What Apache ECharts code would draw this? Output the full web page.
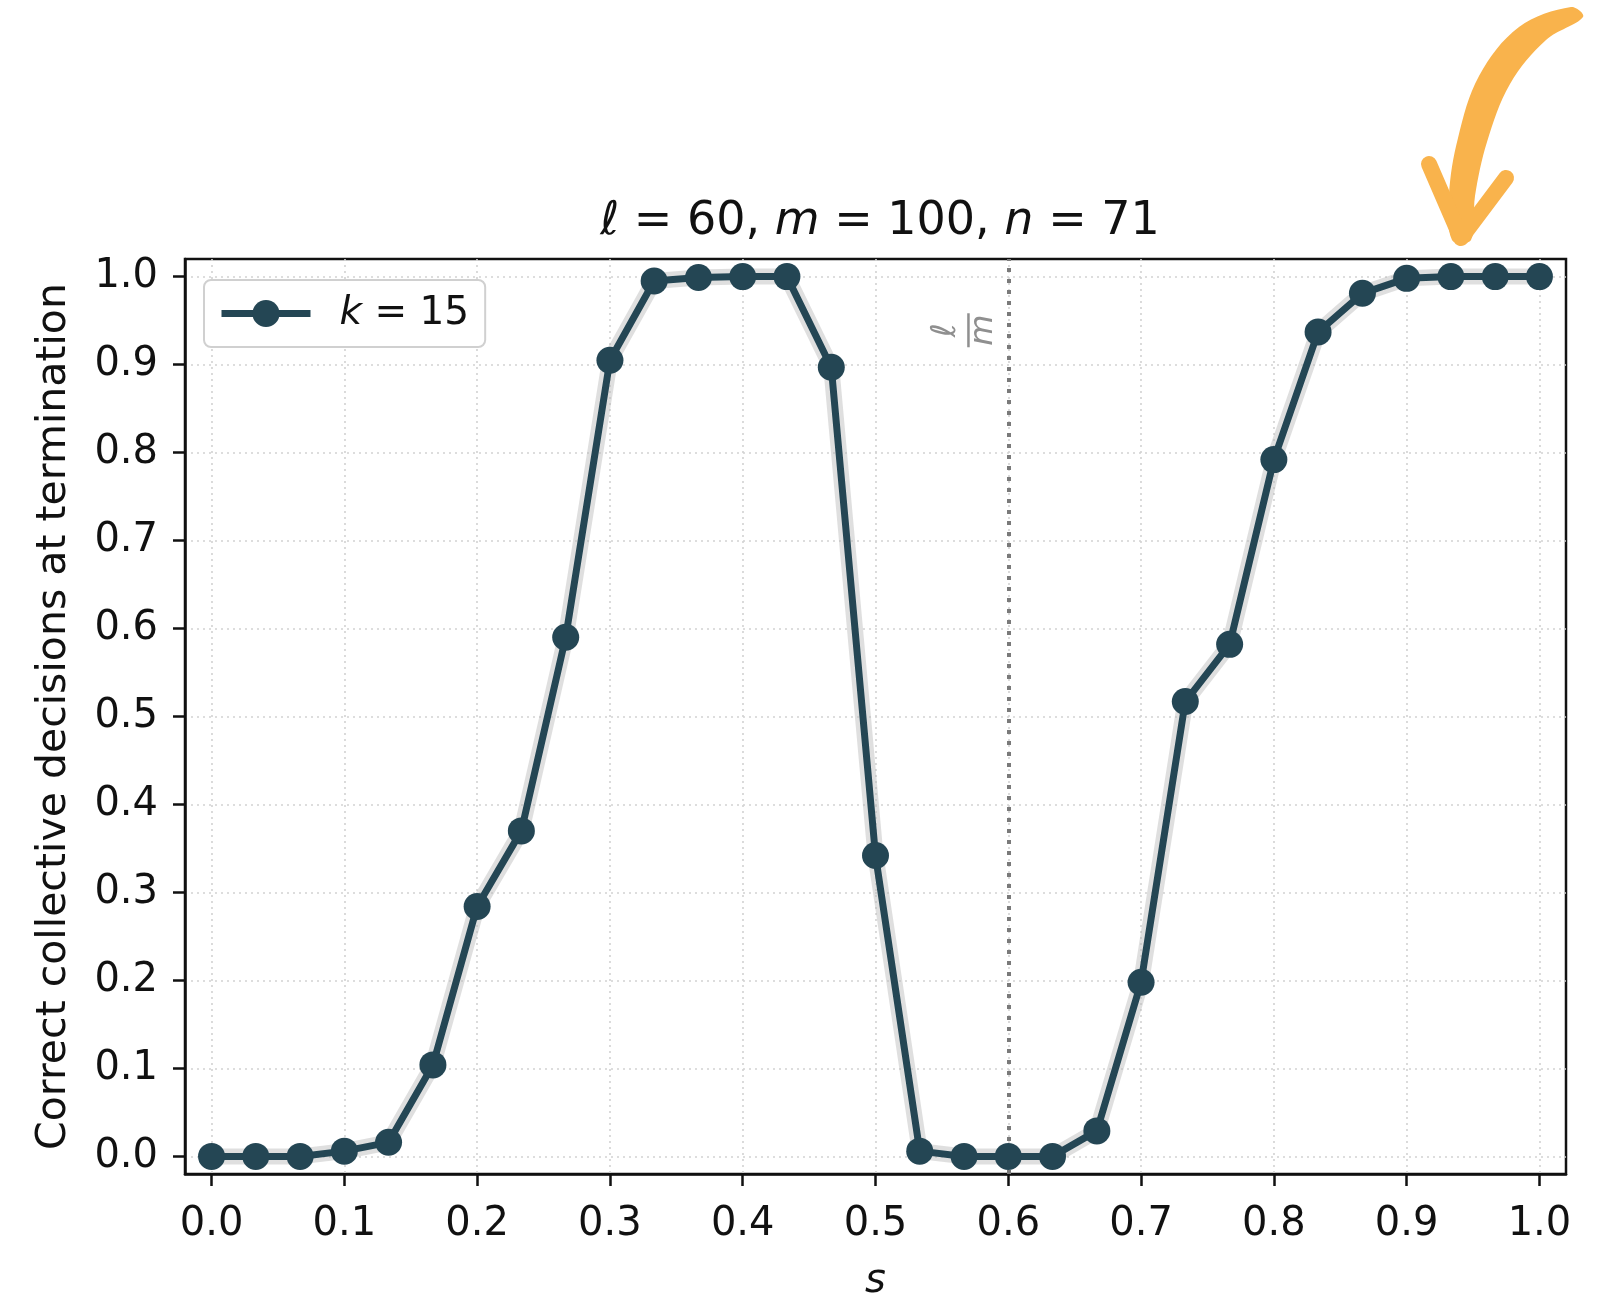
<!DOCTYPE html>
<html>
<head>
<meta charset="utf-8">
<script src="https://cdn.jsdelivr.net/npm/echarts@6/dist/echarts.min.js"></script>
<style>
html,body{margin:0;padding:0;background:#fff;}
#chart{width:1611px;height:1298px;}
</style>
</head>
<body>
<div id="chart"></div>
<script>
// ---- data ----
const sValues = [0.0000, 0.0333, 0.0667, 0.1000, 0.1333, 0.1667, 0.2000, 0.2333, 0.2667, 0.3000,
                 0.3333, 0.3667, 0.4000, 0.4333, 0.4667, 0.5000, 0.5333, 0.5667, 0.6000, 0.6333,
                 0.6667, 0.7000, 0.7333, 0.7667, 0.8000, 0.8333, 0.8667, 0.9000, 0.9333, 0.9667, 1.0000];
const correctK15 = [0.000, 0.000, 0.000, 0.006, 0.016, 0.104, 0.284, 0.370, 0.590, 0.905,
                    0.995, 0.999, 1.000, 1.000, 0.897, 0.342, 0.006, 0.000, 0.000, 0.000,
                    0.029, 0.198, 0.517, 0.582, 0.792, 0.937, 0.981, 0.998, 1.000, 1.000, 1.000];
const xTicks = [0.0, 0.1, 0.2, 0.3, 0.4, 0.5, 0.6, 0.7, 0.8, 0.9, 1.0];
const yTicks = [0.0, 0.1, 0.2, 0.3, 0.4, 0.5, 0.6, 0.7, 0.8, 0.9, 1.0];
const ratioLM = 0.6;           // l/m
const fracLabelPos = [0.570, 0.939];
const seriesName = 'k = 15';

const FONT = '"DejaVu Sans", sans-serif';
const LINE_COLOR = '#244654';
const ORANGE = '#F9B34C';

const chart = echarts.init(document.getElementById('chart'), null, {renderer: 'canvas'});

const points = sValues.map((s, i) => [s, correctK15[i]]);

const gridLineStyle = {color: '#d2d2d2', width: 1.6, type: [2, 4]};

const option = {
  backgroundColor: '#fff',
  animation: false,
  title: {
    text: '{i|ℓ} = 60, {i|m} = 100, {i|n} = 71',
    left: 875, top: 194, textAlign: 'center',
    textStyle: {
      fontFamily: FONT, fontSize: 46, fontWeight: 'normal', color: '#111',
      rich: {i: {fontFamily: FONT, fontSize: 46, fontStyle: 'italic', color: '#111'}}
    }
  },
  grid: {left: 185, right: 45, top: 259, bottom: 124, show: true, borderColor: '#111', borderWidth: 2.5,
    backgroundColor: 'transparent', containLabel: false, outerBoundsMode: 'none'},
  legend: {
    left: 204, top: 280,
    orient: 'horizontal',
    itemWidth: 89, itemHeight: 34,
    padding: [14, 16, 14, 14],
    backgroundColor: '#fff',
    borderColor: '#d0d0d0', borderWidth: 2, borderRadius: 7,
    lineStyle: {width: 7},
    data: [seriesName],
    formatter: () => '{i|k} = 15',
    textStyle: {
      fontFamily: FONT, fontSize: 39, color: '#111', padding: [0, 0, 0, 24],
      rich: {i: {fontFamily: FONT, fontSize: 39, fontStyle: 'italic', color: '#111'}}
    }
  },
  xAxis: {
    type: 'value', min: -0.02, max: 1.02,
    name: 's', nameLocation: 'middle', nameGap: 88,
    nameTextStyle: {fontFamily: FONT, fontSize: 40, fontStyle: 'italic', color: '#111'},
    axisLine: {show: true, onZero: false, lineStyle: {color: '#111', width: 2.5}},
    axisTick: {show: true, length: 12, lineStyle: {color: '#111', width: 2.5}, customValues: xTicks},
    axisLabel: {customValues: xTicks, margin: 31, fontFamily: FONT, fontSize: 40, color: '#111',
      formatter: v => v.toFixed(1)},
    splitLine: {show: true, lineStyle: gridLineStyle}
  },
  yAxis: {
    type: 'value', min: -0.02, max: 1.02,
    name: 'Correct collective decisions at termination', nameLocation: 'middle', nameGap: 110,
    nameTextStyle: {fontFamily: FONT, fontSize: 41, color: '#111'},
    axisLine: {show: true, onZero: false, lineStyle: {color: '#111', width: 2.5}},
    axisTick: {show: true, length: 12, lineStyle: {color: '#111', width: 2.5}, customValues: yTicks},
    axisLabel: {customValues: yTicks, margin: 27, fontFamily: FONT, fontSize: 40, color: '#111',
      formatter: v => v.toFixed(1)},
    splitLine: {show: true, lineStyle: gridLineStyle}
  },
  series: [
    {
      name: 'band', type: 'line', data: points, symbol: 'none', silent: true,
      lineStyle: {color: 'rgba(185,185,185,0.45)', width: 16}, z: 1
    },
    {
      name: seriesName, type: 'line', data: points,
      symbol: 'circle', symbolSize: 27,
      itemStyle: {color: LINE_COLOR},
      lineStyle: {color: LINE_COLOR, width: 7}, z: 3,
      markLine: {
        silent: true, symbol: 'none', label: {show: false}, z: 2,
        lineStyle: {color: '#7a7a7a', width: 4, type: [4, 7]},
        data: [{xAxis: ratioLM}]
      }
    }
  ]
};
chart.setOption(option);

// fraction label l/m next to the vertical line, rotated
const p = chart.convertToPixel({xAxisIndex: 0, yAxisIndex: 0}, fracLabelPos);
const gray = '#8f8f8f';
chart.setOption({
  graphic: [
    {
      type: 'group', x: p[0], y: p[1], rotation: Math.PI / 2, z: 10,
      children: [
        {type: 'text', x: 0, y: -22, style: {text: 'ℓ', font: 'italic 34px "DejaVu Sans"', fill: gray, align: 'center', verticalAlign: 'middle'}},
        {type: 'line', shape: {x1: -17, y1: 0, x2: 17, y2: 0}, style: {stroke: gray, lineWidth: 2.5}},
        {type: 'text', x: 0, y: 15, style: {text: 'm', font: 'italic 32px "DejaVu Sans"', fill: gray, align: 'center', verticalAlign: 'middle'}}
      ]
    },
    {
      type: 'polygon', z: 20,
      shape: {
        smooth: 0.35,
        points: [[1583, 17], [1546, 40], [1510, 84], [1487, 142], [1475, 196], [1471, 240],
                 [1452, 240], [1449, 195], [1458, 138], [1479, 76], [1519, 27], [1571, 7]]
      },
      style: {fill: ORANGE}
    },
    {
      type: 'polyline', z: 20,
      shape: {points: [[1429, 164], [1461, 238], [1506, 178]]},
      style: {stroke: ORANGE, lineWidth: 16, lineCap: 'round', lineJoin: 'round', fill: null}
    }
  ]
});
</script>
</body>
</html>
